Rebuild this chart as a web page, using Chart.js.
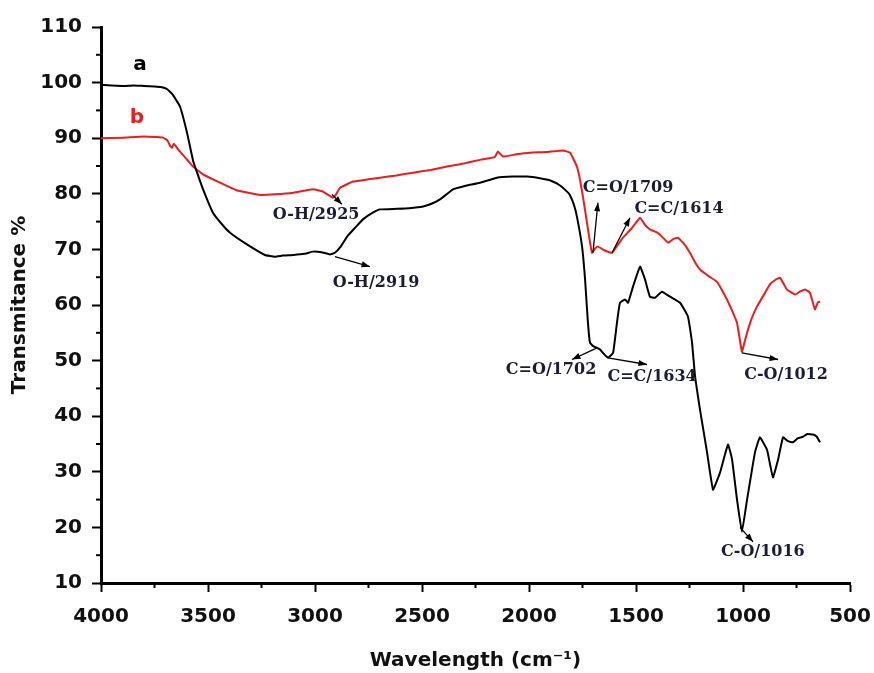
<!DOCTYPE html>
<html>
<head>
<meta charset="utf-8">
<script src="https://cdn.jsdelivr.net/npm/chart.js@4.4.1/dist/chart.umd.min.js"></script>
<style>
  html, body { margin: 0; padding: 0; background: #fff; }
  #wrap { width: 874px; height: 673px; position: relative; }
</style>
</head>
<body>
<div id="wrap"><canvas id="chart-ftir"></canvas></div>
<script>
// spectrum a (black)
const waveA = [4000,3900,3850,3800,3750,3720,3690,3664,3631,3598,3570,3551,3523,3477,3430,3397,3318,3234,3187,3150,3100,3050,3009,2970,2930,2907,2880,2850,2810,2776,2730,2696,2617,2560,2495,2450,2416,2355,2300,2229,2150,2075,2009,1949,1900,1855,1820,1808,1790,1776,1752,1738,1725,1715,1700,1682,1668,1650,1631,1607,1589,1575,1551,1537,1514,1481,1458,1435,1411,1379,1341,1294,1257,1238,1224,1201,1168,1140,1107,1070,1051,1028,1005,981,944,921,888,860,836,813,790,766,745,720,700,673,655,640];
const transA = [99.6,99.4,99.5,99.4,99.3,99.2,98.8,97.8,95.7,91,86,83.8,80.8,76.6,74.3,73,70.9,69,68.7,68.9,69.0,69.2,69.6,69.5,69.1,69.4,70.5,72.3,74,75.4,76.6,77.2,77.3,77.4,77.7,78.3,79,80.8,81.4,82,82.9,83.1,83.1,82.8,82.4,81.5,80.3,79.7,78,75.9,70.5,64.6,57,53.2,52.6,52.3,52,51.2,50.5,51.4,56.8,60.4,61,60.4,63.3,66.9,64.6,61.5,61.3,62.4,61.5,60.4,57.9,53.2,47.1,41.2,33.5,26.8,29.9,34.9,32.2,25,19.2,25,33.5,36.2,34,29,32.2,36.2,35.5,35.3,36,36.3,36.8,36.7,36.3,35.3];

// spectrum b (red)
const waveB = [4000,3900,3800,3740,3710,3690,3675,3668,3660,3640,3617,3570,3523,3444,3364,3300,3257,3187,3100,3009,2963,2916,2900,2883,2822,2750,2696,2620,2542,2460,2383,2300,2229,2160,2145,2121,2060,1995,1920,1841,1808,1776,1762,1748,1729,1706,1690,1678,1645,1612,1585,1561,1520,1481,1460,1435,1400,1379,1350,1325,1304,1280,1248,1220,1201,1160,1122,1100,1075,1050,1028,1005,995,981,960,935,900,874,850,827,810,795,757,730,710,687,664,650,640];
const transB = [90.0,90.1,90.3,90.2,90.1,89.6,88.5,88.3,89,88,87,84.9,83.5,82,80.6,80.1,79.8,79.9,80.2,80.8,80.4,79.3,80,81.1,82.2,82.6,82.9,83.3,83.8,84.3,84.9,85.5,86.1,86.6,87.6,86.7,87.1,87.4,87.5,87.8,87.4,84.9,82.6,79.5,74.8,69.4,70.2,70.5,69.8,69.4,70.8,72.1,73.8,75.7,74.5,73.6,73,72.3,71.2,71.9,72.1,71.2,69.4,67.4,66.4,65.2,64.2,62.8,61,58.9,56.8,51.6,53,55,57.5,59.7,62,63.7,64.5,64.9,63.8,62.8,61.9,62.5,62.8,62.2,59.2,60.5,60.6];

// band labels: text, label position, arrow start, arrow end (wavenumber, %T)
const bandText = ['O-H/2925', 'O-H/2919', 'C=O/1709', 'C=C/1614', 'C=O/1702', 'C=C/1634', 'C-O/1012', 'C-O/1016'];
const bandPos  = [[2995,76.3],[2715,64.0],[1537,81.1],[1299,77.3],[1897,48.4],[1425,47.1],[799,47.5],[907,15.6]];
const arrowFrom = [[2921,79.9],[2907,68.7],[1701,69.4],[1612,69.4],[1682,52.3],[1631,50.5],[1005,51.4],[1014,20.0]];
const arrowTo   = [[2874,78.1],[2743,66.9],[1678,78.4],[1528,75.7],[1799,50.2],[1449,49.3],[836,50.2],[953,17.4]];

const toPoints = (xs, ys) => xs.map((x, i) => ({ x: x, y: ys[i] }));

// minor ticks + curve letters + band labels with arrows
const extrasPlugin = {
    id: 'extras',
    afterDraw(chart) {
        const ctx = chart.ctx;
        const xs = chart.scales.x, ys = chart.scales.y;
        const area = chart.chartArea;
        ctx.save();
        ctx.strokeStyle = '#000';
        ctx.lineWidth = 2;
        // minor ticks
        for (let v = 15; v < 110; v += 10) {
            const p = ys.getPixelForValue(v);
            ctx.beginPath(); ctx.moveTo(area.left - 5, p); ctx.lineTo(area.left, p); ctx.stroke();
        }
        for (let v = 750; v < 4000; v += 500) {
            const p = xs.getPixelForValue(v);
            ctx.beginPath(); ctx.moveTo(p, area.bottom); ctx.lineTo(p, area.bottom + 5); ctx.stroke();
        }
        // curve letters
        ctx.font = 'bold 20px "DejaVu Sans"';
        ctx.textAlign = 'center';
        ctx.textBaseline = 'middle';
        ctx.fillStyle = '#000';
        ctx.fillText('a', xs.getPixelForValue(3818), ys.getPixelForValue(103.2));
        ctx.fillStyle = '#ee1c1c';
        ctx.fillText('b', xs.getPixelForValue(3832), ys.getPixelForValue(93.7));
        // band labels
        ctx.font = 'bold 16px "DejaVu Serif"';
        ctx.fillStyle = '#1c1c36';
        bandText.forEach((t, i) => {
            ctx.fillText(t, xs.getPixelForValue(bandPos[i][0]), ys.getPixelForValue(bandPos[i][1]));
        });
        // arrows
        ctx.strokeStyle = '#000';
        ctx.fillStyle = '#000';
        ctx.lineWidth = 1.3;
        arrowFrom.forEach((f, i) => {
            const x1 = xs.getPixelForValue(f[0]), y1 = ys.getPixelForValue(f[1]);
            const x2 = xs.getPixelForValue(arrowTo[i][0]), y2 = ys.getPixelForValue(arrowTo[i][1]);
            const ang = Math.atan2(y2 - y1, x2 - x1);
            ctx.beginPath(); ctx.moveTo(x1, y1); ctx.lineTo(x2, y2); ctx.stroke();
            ctx.beginPath();
            ctx.moveTo(x2, y2);
            ctx.lineTo(x2 - 9 * Math.cos(ang - 0.35), y2 - 9 * Math.sin(ang - 0.35));
            ctx.lineTo(x2 - 9 * Math.cos(ang + 0.35), y2 - 9 * Math.sin(ang + 0.35));
            ctx.closePath();
            ctx.fill();
        });
        ctx.restore();
    }
};

const ctx = document.getElementById('chart-ftir');
new Chart(ctx, {
    type: 'line',
    data: {
        datasets: [{
            label: 'a',
            data: toPoints(waveA, transA),
            borderColor: '#000',
            borderWidth: 2,
            pointRadius: 0,
            tension: 0.1
        }, {
            label: 'b',
            data: toPoints(waveB, transB),
            borderColor: '#ee1c1c',
            borderWidth: 2,
            pointRadius: 0,
            tension: 0.1
        }]
    },
    options: {
        responsive: true,
        maintainAspectRatio: false,
        animation: false,
        layout: { padding: { top: 27, right: 24, left: 0, bottom: 0 } },
        scales: {
            x: {
                type: 'linear',
                reverse: true,
                min: 500,
                max: 4000,
                afterFit: (scale) => {
                    scale.height = 90;
                    scale.paddingLeft = 0;
                    scale.paddingRight = 0;
                },
                border: { display: true, color: '#000', width: 3 },
                grid: { drawOnChartArea: false, color: '#000', tickLength: 9, tickWidth: 2 },
                ticks: {
                    stepSize: 500,
                    padding: 13,
                    color: '#111',
                    font: { family: 'DejaVu Sans', size: 20, weight: 'bold' },
                    callback: (v) => String(v)
                },
                title: {
                    display: true,
                    text: 'Wavelength (cm⁻¹)',
                    color: '#111',
                    padding: { top: 0, bottom: 0 },
                    font: { family: 'DejaVu Sans', size: 20, weight: 'bold' }
                }
            },
            y: {
                min: 10,
                max: 110,
                afterFit: (scale) => { scale.width = 101; },
                border: { display: true, color: '#000', width: 3 },
                grid: { drawOnChartArea: false, color: '#000', tickLength: 9, tickWidth: 2 },
                ticks: {
                    stepSize: 10,
                    padding: 10,
                    color: '#111',
                    font: { family: 'DejaVu Sans', size: 20, weight: 'bold' }
                },
                title: {
                    display: true,
                    text: 'Transmitance %',
                    color: '#111',
                    padding: { top: 8, bottom: 0 },
                    font: { family: 'DejaVu Sans', size: 20, weight: 'bold' }
                }
            }
        },
        plugins: {
            legend: { display: false },
            tooltip: { enabled: false }
        }
    },
    plugins: [extrasPlugin]
});
</script>
</body>
</html>
